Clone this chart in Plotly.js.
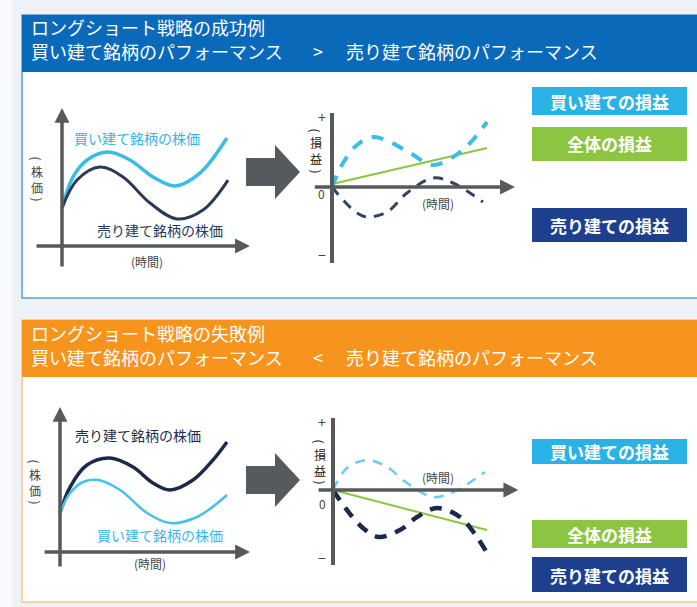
<!DOCTYPE html>
<html><head><meta charset="utf-8">
<script src="https://cdn.plot.ly/plotly-3.0.1.min.js"></script>
<style>html,body{margin:0;padding:0;background:#eef1f5;}#chart{width:697px;height:607px;}</style>
</head><body><div id="chart"></div>
<script>
const W = 697, H = 607;
const F = '"Noto Sans CJK JP", "Noto Sans", sans-serif';

// ---- data: success case (top) ----
const timeBuyTop   = [0, 0.58, 1.32, 2.42, 3.58, 4.79, 5.95, 7.26, 8.68];
const priceBuyTop  = [2.7, 4.93, 6.14, 6.71, 6.14, 4.93, 4.29, 5.21, 7.71];
const timeSellTop  = [0, 0.79, 2.0, 3.21, 4.63, 6.05, 7.42, 8.74];
const priceSellTop = [2.7, 4.71, 5.64, 4.93, 3.07, 1.93, 2.57, 4.71];

const plTimeBuyTop   = [0, 0.65, 1.47, 2.41, 3.41, 4.59, 5.94, 7.12, 8.12, 9.12];
const plBuyTop       = [0, 2.4, 4.2, 5.0, 4.5, 3.4, 2.2, 3.0, 4.4, 6.5];
const plTimeSellTop  = [0, 0.65, 1.47, 2.06, 3.24, 4.41, 5.94, 7.12, 8.88];
const plSellTop      = [0, -1.3, -2.6, -3.0, -2.5, -0.6, 0.9, 0.4, -1.5];
const plTimeTotalTop = [0, 9.12];
const plTotalTop     = [0.3, 3.9];

// ---- data: failure case (bottom) ----
const timeSellBot  = [0, 0.53, 1.42, 2.63, 3.84, 4.89, 5.79, 7.0, 8.05, 8.79];
const priceSellBot = [2.79, 4.64, 6.21, 6.71, 6.07, 4.93, 4.43, 5.14, 6.57, 7.86];
const timeBuyBot   = [0, 0.53, 1.21, 2.0, 3.16, 4.58, 5.79, 7.21, 8.79];
const priceBuyBot  = [2.79, 4.21, 5.0, 5.14, 4.43, 2.79, 2.07, 2.5, 4.07];

const plTimeBuyBot   = [0, 0.82, 2.0, 3.18, 4.35, 5.88, 7.06, 8.94];
const plBuyBot       = [0, 2.2, 3.0, 2.3, 0.7, -0.7, -0.2, 1.8];
const plTimeSellBot  = [0, 0.82, 1.76, 2.65, 3.94, 4.94, 6.12, 7.47, 8.47, 9.06];
const plSellBot      = [0, -2.0, -3.8, -4.7, -4.0, -2.7, -1.8, -2.7, -4.7, -6.3];
const plTimeTotalBot = [0, 9.06];
const plTotalBot     = [0, -4.0];

// ---- text ----
const titleTop1 = 'ロングショート戦略の成功例';
const titleBot1 = 'ロングショート戦略の失敗例';
const perfBuy = '買い建て銘柄のパフォーマンス';
const perfSell = '売り建て銘柄のパフォーマンス';
const labelBuyPrice = '買い建て銘柄の株価';
const labelSellPrice = '売り建て銘柄の株価';
const labelTime = '(時間)';
const labelPrice = ['株', '価'];
const labelPL = ['損', '益'];
const legBuy = '買い建ての損益';
const legTotal = '全体の損益';
const legSell = '売り建ての損益';

// ---- helpers ----
const px = x => x / W;
const py = y => 1 - y / H;
function xa(a, b, o, s) { return {domain: [a / W, b / W], range: [(a - o) / s, (b - o) / s], visible: false, fixedrange: true}; }
function ya(t, b, o, s) { return {domain: [1 - b / H, 1 - t / H], range: [(o - b) / s, (o - t) / s], visible: false, fixedrange: true}; }
function rect(x0, y0, x1, y1, fill, line, lw) {
  return {type: 'rect', xref: 'paper', yref: 'paper', x0: px(x0), x1: px(x1), y0: py(y1), y1: py(y0),
    fillcolor: fill, line: {color: line || fill, width: lw || 0}, layer: 'below'};
}
function txt(s, x, y, size, color, extra) {
  return Object.assign({xref: 'paper', yref: 'paper', x: px(x), y: py(y), text: s, showarrow: false,
    font: {family: F, size: size, color: color}, xanchor: 'center', yanchor: 'middle', borderpad: 0}, extra || {});
}
function arrowAx(xr, yr, x, y, ax, ay) {
  return {xref: xr, yref: yr, axref: xr, ayref: yr, x: x, y: y, ax: ax, ay: ay, text: '', showarrow: true,
    arrowhead: 2, arrowsize: 0.85, arrowwidth: 3.5, arrowcolor: '#58595b', standoff: 0, startstandoff: 0};
}
function vlabel(chars, x, yc, size, color) {
  const half = size * 1.3 + 5;
  return [
    txt('(', x, yc - half, size, color, {textangle: 90}),
    txt(chars.join('<br>'), x, yc, size, color),
    txt(')', x, yc + half, size, color, {textangle: 90})
  ];
}
function bigArrow(x0, cy) {
  const pts = [[x0, cy - 14], [x0 + 29, cy - 14], [x0 + 29, cy - 27], [x0 + 54, cy], [x0 + 29, cy + 27], [x0 + 29, cy + 14], [x0, cy + 14]];
  return {type: 'path', xref: 'paper', yref: 'paper',
    path: 'M' + pts.map(p => px(p[0]) + ',' + py(p[1])).join('L') + 'Z',
    fillcolor: '#555a5f', line: {width: 0}};
}

const traces = [
  {x: timeBuyTop, y: priceBuyTop, xaxis: 'x', yaxis: 'y', mode: 'lines', line: {shape: 'spline', color: '#38bde6', width: 3.5}},
  {x: timeSellTop, y: priceSellTop, xaxis: 'x', yaxis: 'y', mode: 'lines', line: {shape: 'spline', color: '#2b3b57', width: 3}},
  {x: plTimeTotalTop, y: plTotalTop, xaxis: 'x2', yaxis: 'y2', mode: 'lines', line: {color: '#8dc63f', width: 2}},
  {x: plTimeBuyTop, y: plBuyTop, xaxis: 'x2', yaxis: 'y2', mode: 'lines', line: {shape: 'spline', color: '#3cbde5', width: 4, dash: '12px,10px'}},
  {x: plTimeSellTop, y: plSellTop, xaxis: 'x2', yaxis: 'y2', mode: 'lines', line: {shape: 'spline', color: '#34435f', width: 3, dash: '10px,8px'}},
  {x: timeSellBot, y: priceSellBot, xaxis: 'x3', yaxis: 'y3', mode: 'lines', line: {shape: 'spline', color: '#1c2a48', width: 3.5}},
  {x: timeBuyBot, y: priceBuyBot, xaxis: 'x3', yaxis: 'y3', mode: 'lines', line: {shape: 'spline', color: '#47c0ea', width: 2.5}},
  {x: plTimeTotalBot, y: plTotalBot, xaxis: 'x4', yaxis: 'y4', mode: 'lines', line: {color: '#8dc63f', width: 2}},
  {x: plTimeBuyBot, y: plBuyBot, xaxis: 'x4', yaxis: 'y4', mode: 'lines', line: {shape: 'spline', color: '#6ccbee', width: 2.5, dash: '10px,8px'}},
  {x: plTimeSellBot, y: plSellBot, xaxis: 'x4', yaxis: 'y4', mode: 'lines', line: {shape: 'spline', color: '#1c2a4a', width: 4.5, dash: '12px,9px'}}
];
traces.forEach(t => { t.hoverinfo = 'skip'; t.showlegend = false; });

const shapes = [
  rect(0, 0, 12, 607, '#f8f9fb'),
  // top panel
  rect(22, 15, 699, 298, '#ffffff', '#4da5db', 1.5),
  rect(22, 15, 699, 72, '#0a69b8'),
  // bottom panel
  rect(22, 320, 699, 602, '#ffffff', '#f6c888', 1.5),
  rect(22, 320, 699, 377, '#f7941d'),
  // legend boxes top
  rect(532, 87, 687, 115, '#2ab1e5'),
  rect(532, 127, 687, 161, '#8cc541'),
  rect(532, 208, 687, 242, '#1d3f8e'),
  // legend boxes bottom
  rect(532, 439, 687, 464, '#2ab1e5'),
  rect(532, 520, 687, 548, '#8cc541'),
  rect(532, 557, 687, 592, '#1d3f8e'),
  bigArrow(246, 172),
  bigArrow(246, 480),
  // vertical axes of P&L charts
  {type: 'line', xref: 'x2', yref: 'y2', x0: 0, x1: 0, y0: -7.6, y1: 7.4, line: {color: '#58595b', width: 4}},
  {type: 'line', xref: 'x4', yref: 'y4', x0: 0, x1: 0, y0: -7.5, y1: 7.2, line: {color: '#58595b', width: 4}}
];

const ann = [
  // headers
  txt(titleTop1, 30, 27, 18, '#ffffff', {xanchor: 'left'}),
  txt(perfBuy, 30, 51, 18, '#ffffff', {xanchor: 'left'}),
  txt('>', 318, 51, 18, '#ffffff'),
  txt(perfSell, 345, 51, 18, '#ffffff', {xanchor: 'left'}),
  txt(titleBot1, 30, 333, 18, '#ffffff', {xanchor: 'left'}),
  txt(perfBuy, 30, 357, 18, '#ffffff', {xanchor: 'left'}),
  txt('<', 318, 357, 18, '#ffffff'),
  txt(perfSell, 345, 357, 18, '#ffffff', {xanchor: 'left'}),
  // legend texts
  txt('<b>' + legBuy + '</b>', 609, 101, 17, '#ffffff'),
  txt('<b>' + legTotal + '</b>', 609, 144, 17, '#ffffff'),
  txt('<b>' + legSell + '</b>', 609, 225, 17, '#ffffff'),
  txt('<b>' + legBuy + '</b>', 609, 451, 17, '#ffffff'),
  txt('<b>' + legTotal + '</b>', 609, 534, 17, '#ffffff'),
  txt('<b>' + legSell + '</b>', 609, 575, 17, '#ffffff'),
  // top-left price chart
  arrowAx('x', 'y', 0, 9.86, 0, -1.57),
  arrowAx('x', 'y', 9.89, 0, -1.42, 0),
  txt(labelBuyPrice, 137, 138, 14, '#33b5e5'),
  txt(labelSellPrice, 160, 230, 14, '#283a5a'),
  txt(labelTime, 147, 261, 12, '#444444'),
  // top-middle P&L chart
  arrowAx('x2', 'y2', 10.76, 0, -1.1, 0),
  txt('+', 322, 117, 14, '#444444'),
  txt('0', 321, 194, 12, '#444444'),
  txt('−', 322, 255, 14, '#444444'),
  txt(labelTime, 438, 203, 12, '#444444'),
  // bottom-left price chart
  arrowAx('x3', 'y3', 0, 10.36, 0, -1.14),
  arrowAx('x3', 'y3', 10.0, 0, -0.89, 0),
  txt(labelSellPrice, 138, 435, 14, '#1e2d4f'),
  txt(labelBuyPrice, 160, 535, 14, '#3ab8e8'),
  txt(labelTime, 150, 563, 12, '#444444'),
  // bottom-middle P&L chart
  arrowAx('x4', 'y4', 10.9, 0, -0.94, 0),
  txt('+', 322, 422, 14, '#444444'),
  txt('0', 322, 503, 12, '#444444'),
  txt('−', 322, 558, 14, '#444444'),
  txt(labelTime, 438, 477, 12, '#444444')
].concat(
  vlabel(labelPrice, 37, 179, 12, '#444444'),
  vlabel(labelPL, 316, 151, 12, '#222222'),
  vlabel(labelPrice, 35, 482, 12, '#444444'),
  vlabel(labelPL, 320, 462, 12, '#222222')
);

const layout = {
  width: W, height: H, margin: {l: 0, r: 0, t: 0, b: 0},
  paper_bgcolor: '#eef1f5', plot_bgcolor: 'rgba(0,0,0,0)',
  showlegend: false,
  xaxis: Object.assign(xa(30, 262, 62, 19), {anchor: 'y'}),
  yaxis: Object.assign(ya(100, 275, 246, 14), {anchor: 'x'}),
  xaxis2: Object.assign(xa(305, 525, 332, 17), {anchor: 'y2'}),
  yaxis2: Object.assign(ya(105, 270, 187, 10), {anchor: 'x2'}),
  xaxis3: Object.assign(xa(30, 262, 60, 19), {anchor: 'y3'}),
  yaxis3: Object.assign(ya(400, 580, 552, 14), {anchor: 'x3'}),
  xaxis4: Object.assign(xa(305, 525, 333, 17), {anchor: 'y4'}),
  yaxis4: Object.assign(ya(410, 575, 490, 10), {anchor: 'x4'}),
  shapes: shapes,
  annotations: ann
};

Plotly.newPlot('chart', traces, layout, {displayModeBar: false, staticPlot: true});
</script>
</body></html>
